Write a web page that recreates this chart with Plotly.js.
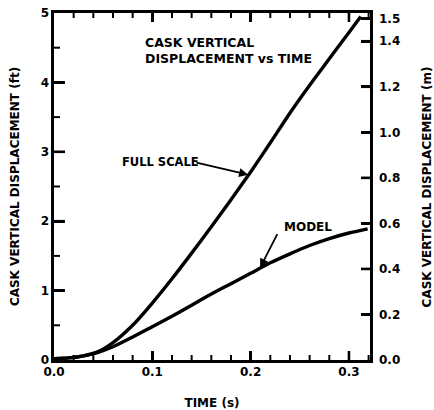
<!DOCTYPE html>
<html>
<head>
<meta charset="utf-8">
<script src="https://cdn.plot.ly/plotly-3.0.1.min.js"></script>
<style>html,body{margin:0;padding:0;background:#fff;}#chart{width:434px;height:410px;}</style>
</head>
<body>
<div id="chart"></div>
<script>
// Time (s)
var fullTime = [0, 0.015, 0.03, 0.045, 0.06, 0.08, 0.1, 0.12, 0.14, 0.16, 0.18, 0.2, 0.22, 0.24, 0.26, 0.28, 0.3, 0.312];
// Full scale displacement (ft)
var fullDisp = [0.02, 0.03, 0.06, 0.12, 0.25, 0.5, 0.82, 1.17, 1.54, 1.92, 2.31, 2.71, 3.13, 3.56, 3.96, 4.34, 4.72, 4.95];
var modelTime = [0, 0.015, 0.03, 0.045, 0.06, 0.08, 0.1, 0.12, 0.14, 0.16, 0.18, 0.2, 0.22, 0.24, 0.26, 0.28, 0.3, 0.319];
// Model displacement (ft)
var modelDisp = [0.02, 0.03, 0.06, 0.11, 0.19, 0.33, 0.48, 0.63, 0.79, 0.95, 1.1, 1.25, 1.4, 1.53, 1.65, 1.75, 1.83, 1.89];

var xMajorTicks = [0.1, 0.2, 0.3];
var xMinorTicks = [0.02, 0.04, 0.06, 0.08, 0.12, 0.14, 0.16, 0.18, 0.22, 0.24, 0.26, 0.28, 0.32];
var yMajorTicks = [1, 2, 3, 4];
var yMinorTicks = [0.5, 1.5, 2.5, 3.5, 4.5];
var y2TickVals = [0, 0.2, 0.4, 0.6, 0.8, 1.0, 1.2, 1.4, 1.5];
var y2TickText = ['0.0', '0.2', '0.4', '0.6', '0.8', '1.0', '1.2', '1.4', '1.5'];

var FT_TO_M = 0.3048;
var X_MAX = 0.3214;
var Y_MAX = 5;
var PLOT_W = 316, PLOT_H = 347;
var PX_X = X_MAX / PLOT_W, PX_Y = Y_MAX / PLOT_H;
var F = 'DejaVu Sans, sans-serif';

function vTicks(vals, base, len) {
  var xs = [], ys = [];
  vals.forEach(function (t) { xs.push(t, t, null); ys.push(base, base + len, null); });
  return {x: xs, y: ys};
}
function hTicks(vals, base, len) {
  var xs = [], ys = [];
  vals.forEach(function (v) { xs.push(base, base + len, null); ys.push(v, v, null); });
  return {x: xs, y: ys};
}
function tickTrace(d, w) {
  return {x: d.x, y: d.y, mode: 'lines', line: {color: '#000', width: w}, hoverinfo: 'skip', connectgaps: false};
}

var y2AsFt = y2TickVals.filter(function (v) { return v > 0 && v < 1.45; }).map(function (v) { return v / FT_TO_M; });

var traces = [
  {x: fullTime, y: fullDisp, mode: 'lines', line: {color: '#000', width: 3.4, shape: 'spline', smoothing: 0.6}, hoverinfo: 'skip'},
  {x: modelTime, y: modelDisp, mode: 'lines', line: {color: '#000', width: 3.4, shape: 'spline', smoothing: 0.6}, hoverinfo: 'skip'},
  tickTrace(vTicks(xMinorTicks, 0, 5 * PX_Y), 2),
  tickTrace(vTicks(xMinorTicks, Y_MAX, -5 * PX_Y), 2),
  tickTrace(vTicks(xMajorTicks, 0, 9 * PX_Y), 2.6),
  tickTrace(vTicks(xMajorTicks, Y_MAX, -9 * PX_Y), 2.6),
  tickTrace(hTicks(yMinorTicks, 0, 6 * PX_X), 2),
  tickTrace(hTicks(yMajorTicks, 0, 11 * PX_X), 2.6),
  tickTrace(hTicks(y2AsFt, X_MAX, -9 * PX_X), 2.6),
  {x: [0], y: [0], yaxis: 'y2', mode: 'markers', marker: {opacity: 0}, hoverinfo: 'skip'}
];

var layout = {
  width: 434, height: 410,
  margin: {l: 54, r: 64, t: 13, b: 50},
  paper_bgcolor: '#fff', plot_bgcolor: '#fff',
  showlegend: false,
  font: {family: F, color: '#000', size: 12, weight: 'bold'},
  xaxis: {
    range: [0, X_MAX], tick0: 0, dtick: 0.1, tickformat: '.1f',
    ticks: 'inside', ticklen: 9, tickwidth: 2.6, tickcolor: '#000',
    showline: true, linewidth: 3, linecolor: '#000', mirror: 'ticks',
    showgrid: false, zeroline: false, ticklabelstandoff: -1,
    tickfont: {family: F, size: 12, weight: 'bold'},
    title: {text: 'TIME (s)', font: {family: F, size: 12, weight: 'bold'}, standoff: 22}
  },
  yaxis: {
    range: [0, Y_MAX], tick0: 0, dtick: 1,
    ticks: 'inside', ticklen: 11, tickwidth: 2.6, tickcolor: '#000',
    showline: true, linewidth: 2.6, linecolor: '#000', mirror: true,
    showgrid: false, zeroline: false,
    tickfont: {family: F, size: 12, weight: 'bold'},
    title: {text: 'CASK VERTICAL DISPLACEMENT (ft)', font: {family: F, size: 12, weight: 'bold'}, standoff: 19}
  },
  yaxis2: {
    overlaying: 'y', side: 'right',
    range: [0, Y_MAX * FT_TO_M], tickvals: y2TickVals, ticktext: y2TickText,
    ticks: 'inside', ticklen: 9, tickwidth: 2.6, tickcolor: '#000',
    showline: true, linewidth: 2.6, linecolor: '#000',
    showgrid: false, zeroline: false, ticklabelstandoff: 4,
    tickfont: {family: F, size: 12, weight: 'bold'}
  },
  annotations: [
    {x: 1.18, y: 0.5, xref: 'paper', yref: 'paper', text: 'CASK VERTICAL DISPLACEMENT (m)', textangle: -90, showarrow: false, xanchor: 'center', yanchor: 'middle', font: {family: F, size: 12, weight: 'bold'}},
    {x: 0.0905, y: 4.57, xref: 'x', yref: 'y', text: 'CASK VERTICAL', showarrow: false, xanchor: 'left', yanchor: 'middle', font: {family: F, size: 12.5, weight: 'bold'}},
    {x: 0.0905, y: 4.34, xref: 'x', yref: 'y', text: 'DISPLACEMENT vs TIME', showarrow: false, xanchor: 'left', yanchor: 'middle', font: {family: F, size: 12.5, weight: 'bold'}},
    {x: 0.067, y: 2.85, xref: 'x', yref: 'y', text: 'FULL SCALE', showarrow: false, xanchor: 'left', yanchor: 'middle', font: {family: F, size: 11.5, weight: 'bold'}},
    {x: 0.1974, y: 2.67, ax: 0.1434, ay: 2.85, xref: 'x', yref: 'y', axref: 'x', ayref: 'y', text: '', showarrow: true, arrowhead: 2, arrowsize: 1, arrowwidth: 1.8, arrowcolor: '#000', standoff: 0, startstandoff: 0},
    {x: 0.232, y: 1.92, xref: 'x', yref: 'y', text: 'MODEL', showarrow: false, xanchor: 'left', yanchor: 'middle', font: {family: F, size: 12, weight: 'bold'}},
    {x: 0.2096, y: 1.33, ax: 0.2279, ay: 1.835, xref: 'x', yref: 'y', axref: 'x', ayref: 'y', text: '', showarrow: true, arrowhead: 2, arrowsize: 1, arrowwidth: 1.8, arrowcolor: '#000', standoff: 0, startstandoff: 0}
  ]
};

Plotly.newPlot('chart', traces, layout, {staticPlot: true, displayModeBar: false});
</script>
</body>
</html>
